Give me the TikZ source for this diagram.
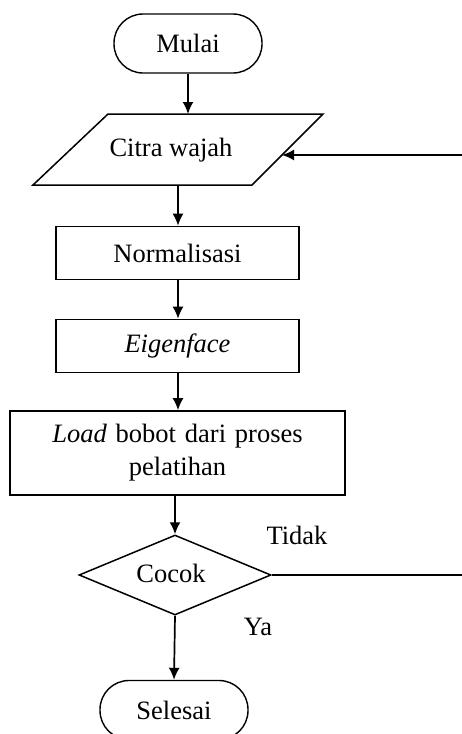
\documentclass[tikz,border=0pt]{standalone}
\usepackage{fontspec}
\setmainfont{Liberation Serif}
\usetikzlibrary{arrows.meta,shapes.geometric}
\begin{document}
\begin{tikzpicture}[x=1pt,y=-1pt,
  every node/.style={font=\fontsize{26.5}{33}\selectfont},
  term/.style={draw,rounded corners=29pt,minimum width=148pt,minimum height=59pt,line width=1.4pt,inner sep=0pt},
  proc/.style={draw,minimum width=243pt,minimum height=53pt,line width=1.7pt,inner sep=0pt},
  decide/.style={draw,diamond,aspect=2.4,minimum width=192pt,minimum height=80pt,line width=1.5pt,inner sep=0pt},
  shp/.style={draw,line width=1.5pt},
  arr/.style={-{Latex[length=12pt,width=11pt]},line width=1.7pt},
  lin/.style={line width=1.7pt}]
\useasboundingbox (0,0) rectangle (462,734);
\clip (0,0) rectangle (462,734);
% terminators
\node[term] (mulai) at (188,43.5) {Mulai};
% input parallelogram
\coordinate (ptl) at (108,114);
\coordinate (ptr) at (323,114);
\coordinate (pbr) at (252,185);
\coordinate (pbl) at (33,185);
\draw[shp] (ptl) -- (ptr) -- (pbr) -- (pbl) -- cycle;
\node (citra) at (171,150) {Citra wajah};
\coordinate (cin) at (188,114);
\coordinate (cout) at (178,185);
\coordinate (cfb) at (282,155);
\coordinate (fbstart) at (462,155);
% processes
\node[proc] (norm) at (177.5,253) {Normalisasi};
\node[proc] (eig) at (177.5,346) {\itshape Eigenface};
\node[proc,minimum width=335pt,minimum height=84pt,text width=330pt,align=center] (load) at (177.5,453)
  {\textit{Load} bobot dari proses\\pelatihan};
% decision
\node[decide] (cocok) at (175,575) {};
\node at (171,573) {Cocok};
\coordinate (nostart) at (462,575);
\node (tidak) at (297,535) {Tidak};
\node (ya) at (258,627) {Ya};
% end
\node[term] (selesai) at (174,710) {Selesai};
% connectors
\draw[arr] (mulai.south) -- (cin);
\draw[arr] (cout) -- (cout |- norm.north);
\draw[arr] (norm.south -| cout) -- (cout |- eig.north);
\draw[arr] (eig.south -| cout) -- (cout |- load.north);
\draw[arr] (load.south -| cocok.north) -- (cocok.north);
\draw[arr] (cocok.south) -- (selesai.north);
\draw[lin] (cocok.east) -- (nostart);
\draw[arr] (fbstart) -- (cfb);
\end{tikzpicture}
\end{document}
